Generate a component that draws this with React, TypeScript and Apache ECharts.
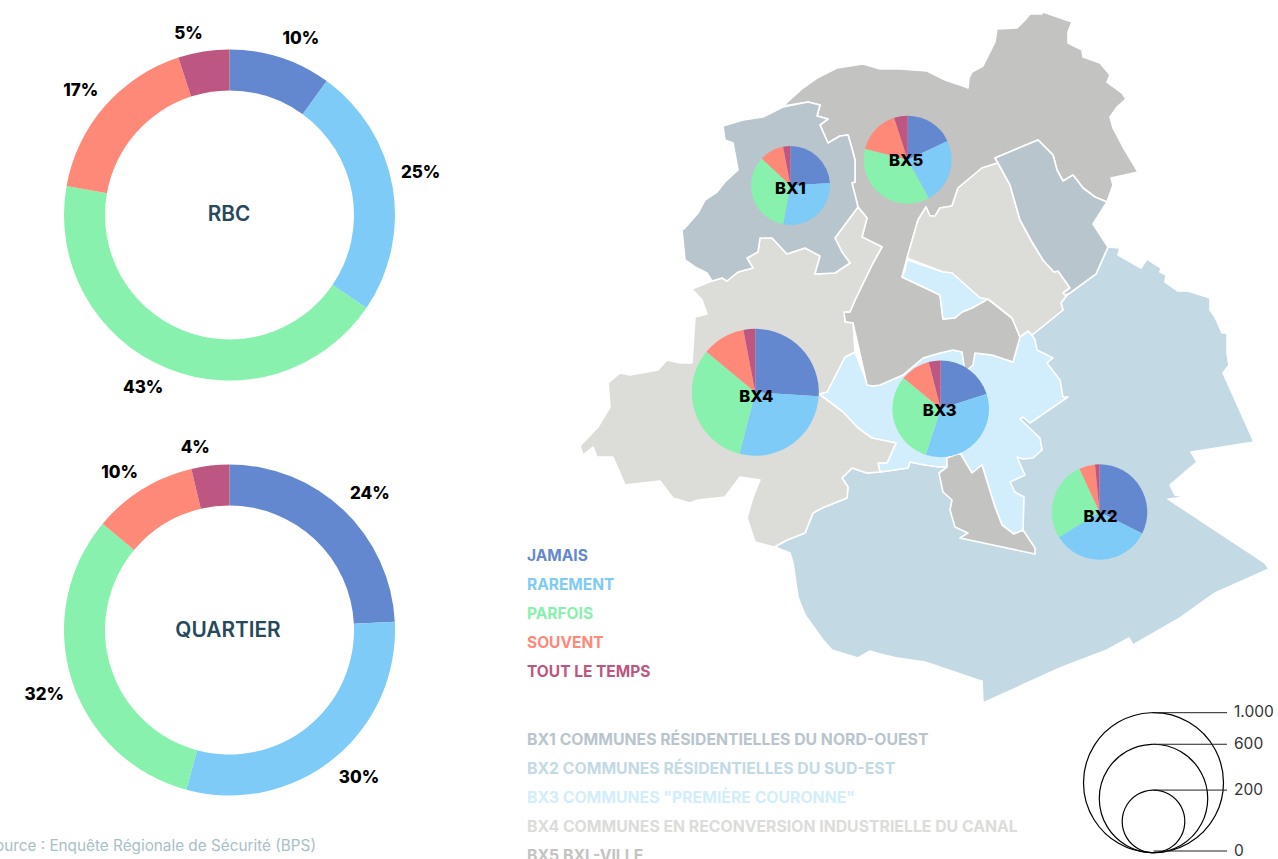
import React, { useEffect, useRef } from "react";
import * as echarts from "echarts";

const categories = ["JAMAIS", "RAREMENT", "PARFOIS", "SOUVENT", "TOUT LE TEMPS"];
const colors = ["#6488d0", "#7dcbf6", "#88f1ad", "#ff8978", "#bd5681"];

const rbcValues = [10, 24.5, 43.3, 17.2, 5];
const quartierValues = [24.2, 30, 31.9, 10.2, 3.7];

const rbcLabelNudge = [[12, 6], [2, -10], [-14, -6], [-4, 1], [-11, 8]];
const quartierLabelNudge = [[8, 2], [9, -2], [-2, 6], [-9, 5], [-12, 8]];

const bx1Values = [24, 29, 34, 10, 3];
const bx2Values = [32.4, 33.7, 27, 5.4, 1.5];
const bx3Values = [20, 35, 31, 10, 4];
const bx4Values = [26, 28, 32, 11, 3];
const bx5Values = [18, 24, 37, 16, 5];

const bxNames = ["BX1", "BX2", "BX3", "BX4", "BX5"];
const bxPopulations = [318, 466, 476, 823, 395];
const bxCentres = [[790.5, 185.5], [1099.5, 512], [940.7, 408.8], [755.3, 392.3], [907.7, 159.7]];
const bxLabelNudge = [[0, 2.5], [1, 4], [-1, 1.5], [1, 3.5], [-1.5, 0.5]];

const zoneLabels = [
  "BX1 COMMUNES RÉSIDENTIELLES DU NORD-OUEST",
  "BX2 COMMUNES RÉSIDENTIELLES DU SUD-EST",
  'BX3 COMMUNES "PREMIÈRE COURONNE"',
  "BX4 COMMUNES EN RECONVERSION INDUSTRIELLE DU CANAL",
  "BX5 BXL-VILLE",
];
const zoneColors = ["#b9c5cc", "#c3dae5", "#d2edfb", "#dcdcd9", "#c3c3c1"];

const sizeLegendValues = [1000, 600, 200, 0];
const sizeLegendLabels = ["1.000", "600", "200", "0"];

const outlineBx2 = [[1108,247],[1120,248],[1118,255],[1141,268],[1147,259],[1161,268],[1160,272],[1166,275],[1165,282],[1178,291],[1188,291],[1210,298],[1210,310],[1215,317],[1222,333],[1227,333],[1227,353],[1229,365],[1223,373],[1254,442],[1191,452],[1197,462],[1185,472],[1170,485],[1175,495],[1185,497],[1168,499],[1265,563],[1269,569],[1215,593],[1180,618],[1133,645],[1129,638],[1107,650],[1060,668],[983,703],[982,681],[978,680],[925,662],[925,667],[925,662],[897,658],[880,654],[870,651],[858,658],[832,650],[823,640],[805,615],[798,597],[793,563],[790,553],[775,547],[787,540],[805,533],[813,513],[822,508],[847,498],[848,487],[842,478],[852,468],[867,473],[880,472],[908,468],[910,462],[925,465],[947,467],[1000,400],[1032,335],[1063,310],[1061,303],[1067,295],[1096,274]];
const outlineBx4West = [[692,289],[712,281],[722,278],[727,281],[738,272],[753,268],[747,258],[758,252],[760,238],[772,238],[787,254],[805,248],[820,256],[815,274],[835,273],[850,263],[842,252],[835,238],[858,207],[867,218],[862,237],[882,247],[873,263],[855,300],[850,312],[844,312],[845,322],[853,323],[855,352],[845,357],[827,392],[819,394],[843,412],[858,428],[872,438],[896,443],[887,463],[878,463],[880,472],[867,473],[852,468],[842,478],[848,487],[847,498],[822,508],[813,513],[805,533],[787,540],[774,547],[755,542],[747,518],[753,497],[760,480],[740,477],[725,497],[698,500],[690,503],[673,498],[660,481],[625,485],[613,457],[597,457],[593,447],[583,455],[580,446],[598,427],[610,407],[608,383],[620,373],[630,375],[658,370],[667,360],[680,363],[692,363],[695,317],[707,314],[702,300]];
const outlineBx4East = [[998,163],[982,168],[958,188],[952,206],[940,208],[935,216],[930,216],[926,207],[918,220],[907,258],[943,272],[952,273],[980,298],[988,299],[1012,318],[1020,337],[1028,331],[1032,335],[1063,310],[1061,303],[1067,295],[1063,293],[1070,288],[1058,271],[1054,272],[1043,260],[1032,242],[1020,220],[1010,185]];
const outlineBx3Main = [[855,352],[867,383],[873,386],[880,385],[903,375],[923,358],[940,353],[953,350],[962,352],[965,362],[975,353],[992,355],[1013,362],[1020,337],[1028,331],[1032,335],[1035,340],[1037,350],[1053,358],[1047,363],[1060,380],[1063,397],[1068,397],[1030,423],[1023,417],[1020,419],[1040,438],[1042,450],[1033,458],[1023,459],[1017,457],[1025,475],[1010,482],[1015,492],[1024,497],[1023,530],[1014,534],[1002,525],[995,507],[982,465],[972,473],[960,453],[947,458],[947,467],[938,467],[925,465],[910,462],[908,468],[880,472],[878,463],[887,463],[896,443],[872,438],[858,428],[843,412],[819,394],[827,392],[845,357]];
const outlineBx3North = [[907,260],[905,270],[902,277],[940,295],[943,319],[955,318],[962,312],[972,308],[988,299],[980,298],[952,273],[943,272]];
const outlineBx5North = [[783,106],[803,88],[817,78],[837,68],[863,64],[880,69],[900,69],[927,71],[945,80],[963,86],[968,88],[969,78],[972,72],[983,66],[995,42],[997,29],[1017,28],[1025,20],[1030,14],[1042,14],[1043,12],[1072,22],[1068,32],[1068,43],[1082,50],[1083,57],[1100,63],[1110,75],[1107,82],[1122,93],[1126,99],[1117,107],[1110,117],[1113,128],[1123,147],[1138,172],[1111,178],[1113,185],[1107,202],[1095,197],[1083,188],[1073,175],[1063,181],[1057,170],[1053,155],[1038,140],[995,158],[998,163],[982,168],[958,188],[952,206],[940,208],[935,216],[930,216],[926,207],[918,220],[907,258],[902,277],[940,295],[943,319],[955,318],[962,312],[972,308],[988,299],[1012,318],[1020,337],[1013,362],[992,355],[975,353],[973,365],[965,372],[962,352],[953,350],[940,353],[923,358],[903,375],[880,385],[873,386],[867,385],[853,323],[845,322],[844,312],[850,312],[855,300],[873,263],[882,247],[862,237],[867,218],[858,207],[852,183],[855,182],[855,160],[851,145],[848,135],[840,136],[828,143],[820,125],[828,119],[817,116],[820,105],[808,102]];
const outlineBx5South = [[947,458],[947,467],[939,473],[943,492],[952,500],[950,510],[955,527],[968,533],[960,538],[1035,554],[1035,548],[1023,530],[1014,534],[1002,525],[995,507],[982,465],[972,473],[960,453]];
const outlineBx1West = [[783,107],[763,117],[743,120],[723,126],[725,140],[733,143],[738,170],[725,182],[717,192],[705,200],[698,213],[685,228],[682,230],[685,260],[695,267],[707,273],[712,281],[722,278],[727,281],[738,272],[753,268],[747,258],[758,252],[760,238],[772,238],[787,254],[805,248],[820,256],[815,274],[835,273],[850,263],[842,252],[835,238],[858,207],[852,183],[855,182],[855,160],[851,145],[848,135],[840,136],[828,143],[820,125],[828,119],[817,116],[820,105],[808,102]];
const outlineBx1East = [[995,158],[1038,140],[1053,155],[1057,170],[1063,181],[1073,175],[1083,188],[1095,197],[1107,202],[1093,224],[1108,247],[1096,274],[1070,293],[1065,295],[1063,293],[1070,288],[1058,271],[1054,272],[1043,260],[1032,242],[1020,220],[1010,185],[998,163]];

const FONT = "Inter, Roboto, sans-serif";

function pieLabelLayout(values: number[], nudge: number[][], cx: number, cy: number, dist: number) {
  const total = values.reduce((a, b) => a + b, 0);
  return (params: any) => {
    let before = 0;
    for (let i = 0; i < params.dataIndex; i++) before += values[i];
    const a = ((before + values[params.dataIndex] / 2) / total) * Math.PI * 2;
    return {
      x: cx + dist * Math.sin(a) + nudge[params.dataIndex][0],
      y: cy - dist * Math.cos(a) + nudge[params.dataIndex][1],
      align: "center",
      verticalAlign: "middle",
    };
  };
}

function donut(name: string, values: number[], nudge: number[][], cx: number, cy: number) {
  return {
    type: "pie",
    name,
    center: [cx, cy],
    radius: [124.5, 165.5],
    startAngle: 90,
    silent: true,
    avoidLabelOverlap: false,
    data: values.map((v, i) => ({ name: categories[i], value: v, itemStyle: { color: colors[i] } })),
    label: {
      show: true,
      position: "outside",
      formatter: (p: any) => `${Math.round(p.value)}%`,
      fontFamily: FONT,
      fontWeight: 800,
      fontSize: 17,
      color: "#000",
    },
    labelLine: { show: false },
    labelLayout: pieLabelLayout(values, nudge, cx, cy, 192),
  };
}

const BUBBLE_MAX = 70;
const bubbleRadius = (v: number) => BUBBLE_MAX * Math.sqrt(v / 1000);

function bubblePie(idx: number, values: number[]) {
  return {
    type: "pie",
    name: bxNames[idx],
    center: bxCentres[idx],
    radius: [0, bubbleRadius(bxPopulations[idx])],
    startAngle: 90,
    silent: true,
    data: values.map((v, i) => ({ name: categories[i], value: v, itemStyle: { color: colors[i] } })),
    label: { show: false },
    labelLine: { show: false },
  };
}

function poly(points: number[][], fill: string) {
  return {
    type: "polygon",
    shape: { points },
    style: { fill, stroke: "#fff", lineWidth: 1.6, lineJoin: "round" },
    silent: true,
  };
}

function text(str: string, x: number, y: number, fill: string, fontSize: number, fontWeight: number, align = "left") {
  return {
    type: "text",
    x,
    y,
    z: 20,
    silent: true,
    style: { text: str, fill, fontSize, fontWeight, fontFamily: FONT, align, verticalAlign: "middle" },
  };
}

function sizeLegend() {
  const bottom = 852.7;
  const items: any[] = [];
  sizeLegendValues.forEach((v, i) => {
    const r = bubbleRadius(v);
    const top = bottom - 2 * r;
    const y = v === 0 ? 851 : top;
    if (v > 0) {
      items.push({
        type: "circle",
        shape: { cx: 1153.5, cy: bottom - r, r },
        style: { fill: "none", stroke: "#000", lineWidth: 1.2 },
        silent: true,
      });
    }
    items.push({
      type: "line",
      shape: { x1: 1153.5, y1: y, x2: 1227, y2: y },
      style: { stroke: "#222", lineWidth: 1 },
      silent: true,
    });
    items.push(text(sizeLegendLabels[i], 1234, y - 1, "#333", 15.5, 400));
  });
  return items;
}

export default function App() {
  const ref = useRef<HTMLDivElement>(null);
  useEffect(() => {
    const chart = echarts.init(ref.current!, null, { renderer: "svg" });
    chart.setOption({
      animation: false,
      backgroundColor: "#fff",
      series: [
        donut("RBC", rbcValues, rbcLabelNudge, 229.5, 215),
        donut("QUARTIER", quartierValues, quartierLabelNudge, 229.5, 630),
        bubblePie(0, bx1Values),
        bubblePie(1, bx2Values),
        bubblePie(2, bx3Values),
        bubblePie(3, bx4Values),
        bubblePie(4, bx5Values),
      ],
      graphic: [
        poly(outlineBx2, zoneColors[1]),
        poly(outlineBx3Main, zoneColors[2]),
        poly(outlineBx5South, zoneColors[4]),
        poly(outlineBx5North, zoneColors[4]),
        poly(outlineBx4West, zoneColors[3]),
        poly(outlineBx4East, zoneColors[3]),
        poly(outlineBx3North, zoneColors[2]),
        poly(outlineBx1West, zoneColors[0]),
        poly(outlineBx1East, zoneColors[0]),
        text("RBC", 229, 213, "#27495c", 20.8, 600, "center"),
        text("QUARTIER", 228, 629, "#27495c", 20.8, 600, "center"),
        ...bxNames.map((n, i) => text(n, bxCentres[i][0] + bxLabelNudge[i][0], bxCentres[i][1] + bxLabelNudge[i][1], "#000", 16.5, 800, "center")),
        ...categories.map((c, i) => text(c, 527, 555.5 + i * 29, colors[i], 15.5, 700)),
        ...zoneLabels.map((c, i) => text(c, 527, 739.5 + i * 29, zoneColors[i], 15.8, 700)),
        text("Source : Enquête Régionale de Sécurité (BPS)", 316, 845, "#a9c0c6", 15.3, 400, "right"),
        ...sizeLegend(),
      ],
    });
    return () => chart.dispose();
  }, []);
  return <div ref={ref} style={{ position: "fixed", left: 0, top: 0, width: 1278, height: 859 }} />;
}
